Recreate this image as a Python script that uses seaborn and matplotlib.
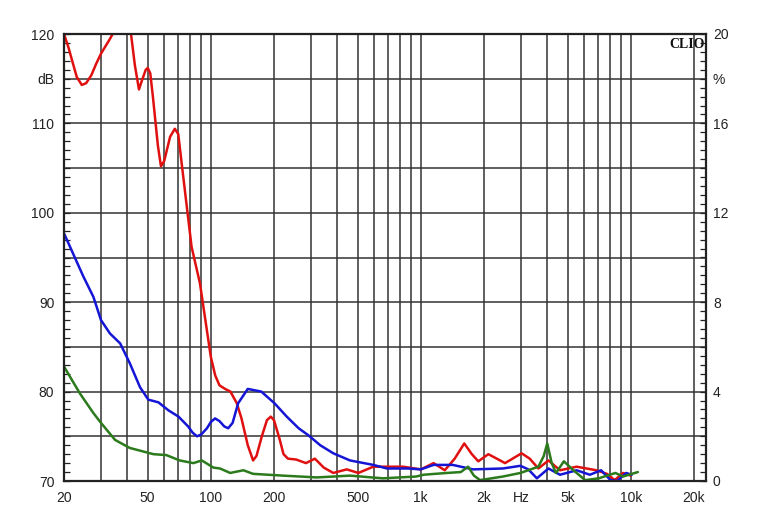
import matplotlib
matplotlib.use("Agg")
import matplotlib.pyplot as plt
import matplotlib.ticker as mticker
import seaborn as sns

# values (Hz, dB)
red_f = [20, 21, 22, 23, 24.3, 25.5, 27, 28.5, 30, 33, 37, 41.7, 43.5, 45.5, 47, 49, 50.1, 51.5,
         53, 56, 57.9, 60, 64, 67.4, 70, 72.6, 81, 88.8, 100, 105, 110, 117, 124, 133, 140,
         150, 159, 165, 175, 185, 193, 200, 212, 222, 233, 255, 284, 313, 345, 383, 444, 504,
         594, 700, 824, 1000, 1150, 1300, 1450, 1610, 1750, 1878, 2096, 2300, 2518, 3020, 3300,
         3630, 4054, 4600, 5520, 6860, 7700, 8380, 9180, 10000]
red_db = [120, 118.5, 116.8, 115.2, 114.3, 114.5, 115.4, 116.7, 117.8, 119.4, 121.5, 120, 116.5,
          113.8, 114.8, 116.0, 116.2, 115.6, 113.0, 107.5, 105.2, 105.8, 108.5, 109.4, 108.8,
          105.6, 96.2, 92.1, 83.9, 81.8, 80.7, 80.3, 80.0, 78.7, 77.0, 74.0, 72.3, 72.8, 75.0,
          76.8, 77.2, 76.8, 74.8, 73.0, 72.5, 72.4, 72.0, 72.5, 71.5, 70.9, 71.3, 70.9, 71.6,
          71.6, 71.6, 71.3, 72.0, 71.2, 72.5, 74.2, 73.0, 72.2, 73.0, 72.5, 72.0, 73.1, 72.5,
          71.4, 72.3, 71.2, 71.6, 71.2, 70.8, 70.1, 70.9, 70.6]

blue_f = [20, 24.7, 27.6, 30, 33.1, 37, 41.1, 46, 50.4, 56.3, 62.9, 70.2, 78, 82, 86, 90, 95.9,
          100, 104.8, 110, 116, 121, 127, 135, 150, 174, 201, 230, 262, 292, 332, 383, 460, 594,
          689, 870, 1000, 1150, 1419, 1773, 2460, 2980, 3250, 3570, 4054, 4600, 5520, 6380,
          7220, 8000, 8600, 9500, 10100]
blue_db = [97.7, 92.9, 90.6, 88.0, 86.5, 85.4, 83.2, 80.5, 79.1, 78.8, 77.9, 77.2, 76.1, 75.4,
           75.0, 75.2, 75.9, 76.6, 77.0, 76.7, 76.1, 75.9, 76.5, 78.7, 80.3, 80.0, 78.7, 77.2,
           75.9, 75.1, 74.0, 73.1, 72.3, 71.8, 71.4, 71.4, 71.3, 71.8, 71.8, 71.3, 71.4, 71.7,
           71.3, 70.3, 71.4, 70.7, 71.2, 70.7, 71.2, 70.1, 70.0, 70.9, 70.7]

green_f = [20, 23.8, 27.6, 30, 35, 41.1, 47.7, 53.3, 61.4, 71.1, 82.6, 90.6, 102.9, 110.6, 123.7,
           143, 159, 221, 320, 460, 660, 950, 1030, 1330, 1550, 1680, 1790, 1915, 2460, 2980,
           3630, 3850, 4000, 4200, 4400, 4800, 5330, 6060, 7040, 8440, 9180, 10800]
green_db = [82.8, 79.8, 77.6, 76.5, 74.6, 73.7, 73.3, 73.0, 72.9, 72.3, 72.0, 72.3, 71.5, 71.4,
            70.9, 71.2, 70.8, 70.6, 70.4, 70.6, 70.3, 70.5, 70.7, 70.9, 71.0, 71.6, 70.6, 70.1,
            70.5, 70.9, 71.6, 72.8, 74.2, 72.0, 70.9, 72.2, 71.2, 70.1, 70.3, 70.9, 70.5, 71.0]

x_ticks = [20, 50, 100, 200, 500, 1000, 2000, 3000, 5000, 10000, 20000]
x_labels = ["20", "50", "100", "200", "500", "1k", "2k", "Hz", "5k", "10k", "20k"]
y_ticks = [70, 75, 80, 85, 90, 95, 100, 105, 110, 115, 120]
y_labels = ["70", "", "80", "", "90", "", "100", "", "110", "dB", "120"]
pct_ticks = [0, 4, 8, 12, 16, 18, 20]
pct_labels = ["0", "4", "8", "12", "16", "%", "20"]

sns.set_style("white")
plt.rcParams["font.family"] = ["Liberation Sans", "DejaVu Sans"]

fig = plt.figure(figsize=(7.65, 5.21), dpi=100)
ax = fig.add_axes([64 / 765, 1 - 481 / 521, 642 / 765, 447 / 521])

sns.lineplot(x=red_f, y=red_db, ax=ax, color="#e01010", lw=1.8, estimator=None)
sns.lineplot(x=blue_f, y=blue_db, ax=ax, color="#1515d5", lw=1.8, estimator=None)
sns.lineplot(x=green_f, y=green_db, ax=ax, color="#2b7a1c", lw=1.8, estimator=None)

ax.set_xscale("log")
ax.set_xlim(20, 22800)
ax.set_ylim(70, 120)
ax.set_xlabel("")
ax.set_ylabel("")

minor_x = [f * m for f in (10, 100, 1000, 10000) for m in range(2, 10)]
minor_x = [v for v in minor_x if 20 < v <= 20000 and v not in x_ticks]
ax.xaxis.set_major_locator(mticker.FixedLocator(x_ticks))
ax.xaxis.set_major_formatter(mticker.FixedFormatter(x_labels))
ax.xaxis.set_minor_locator(mticker.FixedLocator(minor_x))
ax.xaxis.set_minor_formatter(mticker.NullFormatter())
ax.tick_params(axis="x", which="both", length=0, pad=7, labelsize=10, colors="#222222")

ax.set_yticks(y_ticks)
ax.set_yticklabels(y_labels)
ax.yaxis.set_minor_locator(mticker.MultipleLocator(1))
ax.tick_params(axis="y", which="both", direction="in", length=4, width=0.9,
               labelsize=10, pad=7, colors="#222222")

ax.grid(True, which="both", axis="x", color="#333333", lw=1.1)
ax.grid(True, which="major", axis="y", color="#333333", lw=1.1)
for s in ax.spines.values():
    s.set_color("#222222")
    s.set_linewidth(1.6)

ax2 = ax.twinx()
ax2.set_ylim(0, 20)
ax2.set_yticks(pct_ticks)
ax2.set_yticklabels(pct_labels)
ax2.yaxis.set_minor_locator(mticker.MultipleLocator(0.4))
ax2.tick_params(axis="y", which="both", direction="in", length=4, width=0.9,
                labelsize=10, pad=5, colors="#222222")
for s in ax2.spines.values():
    s.set_visible(False)

ax.text(0.998, 0.99, "CLIO", transform=ax.transAxes, ha="right", va="top",
        fontsize=10, fontweight="bold", family="Liberation Serif", color="#111111")

fig.savefig("out.png", dpi=100)
